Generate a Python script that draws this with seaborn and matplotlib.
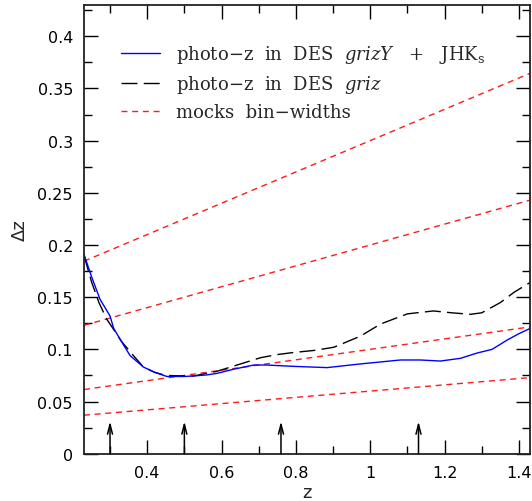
import matplotlib
matplotlib.use("Agg")
import matplotlib.pyplot as plt
import seaborn as sns
import pandas as pd
from matplotlib.ticker import MultipleLocator

# ---- data ----
z_blue = [0.23, 0.25, 0.273, 0.30, 0.31, 0.33, 0.354, 0.39, 0.42, 0.453, 0.50, 0.525,
          0.56, 0.588, 0.633, 0.687, 0.72, 0.794, 0.884, 0.973, 1.03, 1.081, 1.135,
          1.189, 1.243, 1.288, 1.328, 1.369, 1.40, 1.43]
dz_blue = [0.191, 0.170, 0.148, 0.132, 0.120, 0.108, 0.094, 0.083, 0.078, 0.074, 0.074,
           0.0745, 0.0755, 0.077, 0.081, 0.085, 0.085, 0.0837, 0.0825, 0.086, 0.088,
           0.0898, 0.0898, 0.0888, 0.0914, 0.0965, 0.100, 0.109, 0.115, 0.120]

z_black = [0.23, 0.25, 0.27, 0.291, 0.309, 0.33, 0.363, 0.39, 0.42, 0.45, 0.50, 0.525,
           0.56, 0.588, 0.651, 0.705, 0.75, 0.794, 0.85, 0.902, 0.973, 1.028, 1.10,
           1.17, 1.22, 1.27, 1.30, 1.351, 1.387, 1.43]
dz_black = [0.19, 0.165, 0.145, 0.129, 0.1195, 0.108, 0.094, 0.083, 0.078, 0.075, 0.0745,
            0.0745, 0.077, 0.079, 0.086, 0.092, 0.095, 0.097, 0.099, 0.102, 0.1125,
            0.1243, 0.134, 0.1368, 0.135, 0.1336, 0.135, 0.145, 0.1547, 0.164]

z_mock = [0.23, 1.43]
mock_bins = [
    [0.1845, 0.3645],
    [0.123, 0.243],
    [0.0615, 0.1215],
    [0.0369, 0.0729],
]

arrow_z = [0.30, 0.50, 0.76, 1.13]
arrow_top = 0.031

label_blue = "photo\u2212z  in  DES  $\\mathit{grizY}$   +   JHK$_\\mathrm{s}$"
label_black = "photo\u2212z  in  DES  $\\mathit{griz}$"
label_red = "mocks  bin\u2212widths"

# ---- style ----
sns.set_style("ticks")
plt.rcParams["font.family"] = ["DejaVu Sans"]
plt.rcParams["mathtext.fontset"] = "dejavuserif"

fig = plt.figure(figsize=(5.32, 5.02), dpi=100)
ax = fig.add_axes([84 / 532, 47.3 / 502, 446 / 532, 448.7 / 502])

df_blue = pd.DataFrame({"z": z_blue, "dz": dz_blue})
df_black = pd.DataFrame({"z": z_black, "dz": dz_black})

for i, vals in enumerate(mock_bins):
    d = pd.DataFrame({"z": z_mock, "dz": vals})
    sns.lineplot(data=d, x="z", y="dz", ax=ax, color="#ff1a1a", lw=1.0,
                 dashes=False, linestyle=(0, (4.3, 3.4)),
                 label=label_red if i == 0 else None, legend=False)

sns.lineplot(data=df_black, x="z", y="dz", ax=ax, color="black", lw=1.0,
             linestyle=(0, (11.5, 4.5)), label=label_black, legend=False)
sns.lineplot(data=df_blue, x="z", y="dz", ax=ax, color="#0000ff", lw=1.0,
             label=label_blue, legend=False)

for az in arrow_z:
    ax.annotate("", xy=(az, arrow_top), xytext=(az, 0.0),
                arrowprops=dict(arrowstyle="->,head_length=0.7,head_width=0.18",
                                lw=1.1, color="black", shrinkA=0, shrinkB=0))

ax.set_xlim(0.23, 1.43)
ax.set_ylim(0, 0.43)
ax.xaxis.set_minor_locator(MultipleLocator(0.1))
ax.yaxis.set_minor_locator(MultipleLocator(0.025))
ax.set_xticks([0.4, 0.6, 0.8, 1.0, 1.2, 1.4])
ax.set_xticklabels(["0.4", "0.6", "0.8", "1", "1.2", "1.4"])
ax.set_yticks([0, 0.05, 0.1, 0.15, 0.2, 0.25, 0.3, 0.35, 0.4])
ax.set_yticklabels(["0", "0.05", "0.1", "0.15", "0.2", "0.25", "0.3", "0.35", "0.4"])
ax.tick_params(which="both", direction="in", top=True, right=True, width=1.0,
               labelsize=11.5, colors="black")
ax.tick_params(which="major", length=10, pad=8)
ax.tick_params(which="minor", length=6)
for s in ax.spines.values():
    s.set_linewidth(1.3)
    s.set_color("#222222")

ax.set_xlabel("z", fontsize=13, labelpad=2)
ax.set_ylabel("\u0394z", fontsize=13, labelpad=6)

handles, labels = ax.get_legend_handles_labels()
order = [labels.index(label_blue), labels.index(label_black), labels.index(label_red)]
leg = ax.legend([handles[i] for i in order], [labels[i] for i in order],
                loc="upper left", bbox_to_anchor=(0.082, 0.915), frameon=False,
                handlelength=2.2, handletextpad=0.85, labelspacing=0.45,
                borderaxespad=0.0, borderpad=0.0,
                prop={"family": "DejaVu Serif", "size": 13})

fig.savefig("out.png", dpi=100)
